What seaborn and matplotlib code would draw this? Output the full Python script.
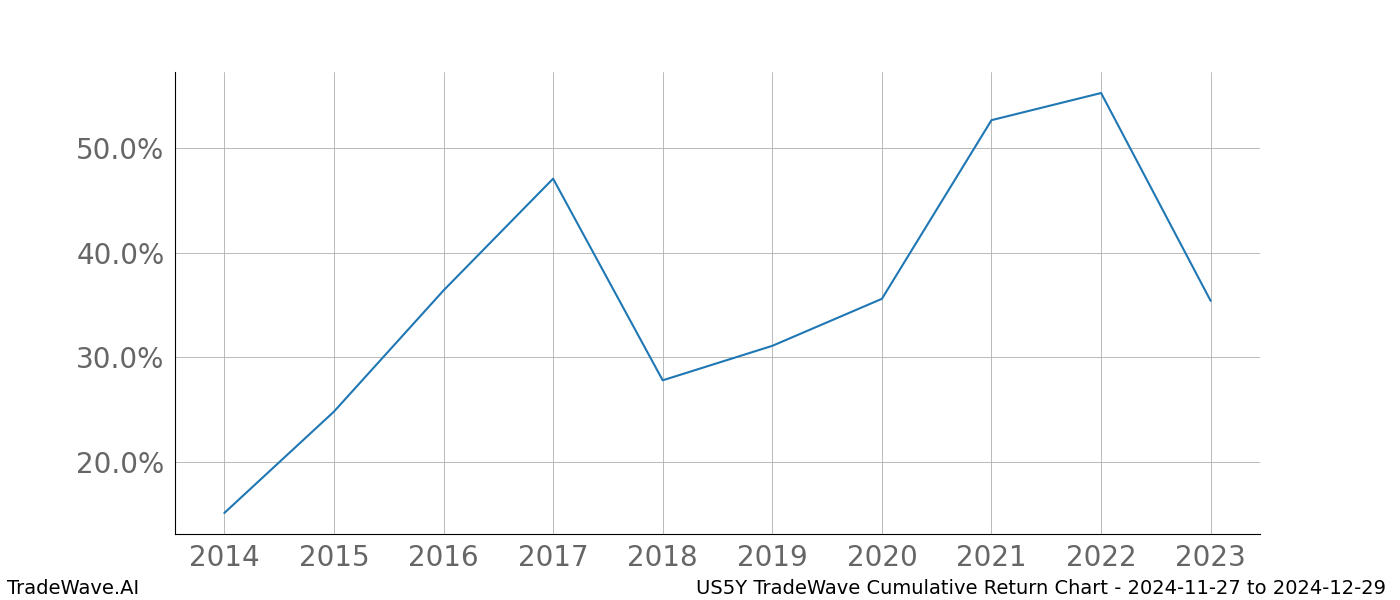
import numpy as np
import pandas as pd
import matplotlib
matplotlib.use("Agg")
import matplotlib.pyplot as plt
import matplotlib.ticker as mtick
import seaborn as sns

# Cumulative return per year (%)
years = [2014, 2015, 2016, 2017, 2018, 2019, 2020, 2021, 2022, 2023]
returns = [15.1, 24.8, 36.4, 47.1, 27.8, 31.1, 35.6, 52.7, 55.3, 35.4]

df = pd.DataFrame({"year": years, "ret": returns})

sns.set_style("white")
plt.rcParams['font.family'] = ['DejaVu Sans']

fig, ax = plt.subplots(figsize=(14, 6), dpi=100)
fig.subplots_adjust(left=0.125, right=0.9, bottom=0.11, top=0.88)

sns.lineplot(data=df, x="year", y="ret", ax=ax, color="#1f77b4", linewidth=1.5)

ax.set_xticks(years)
ax.yaxis.set_major_locator(mtick.MultipleLocator(10))
ax.yaxis.set_major_formatter(mtick.FuncFormatter(lambda v, p: f"{v:.1f}%"))
ax.tick_params(axis="both", labelsize=20, labelcolor="#666666", length=4, color="black")
ax.set_xlabel("")
ax.set_ylabel("")
ax.grid(True, color="#b0b0b0", linewidth=0.6)

sns.despine(ax=ax)
for side in ["left", "bottom"]:
    ax.spines[side].set_color("black")
    ax.spines[side].set_linewidth(0.8)

fig.text(0.005, 0.003, "TradeWave.AI", fontsize=14, ha="left", va="bottom", color="black")
fig.text(0.99, 0.003, "US5Y TradeWave Cumulative Return Chart - 2024-11-27 to 2024-12-29",
         fontsize=14, ha="right", va="bottom", color="black")

plt.savefig("out.png", dpi=100)
